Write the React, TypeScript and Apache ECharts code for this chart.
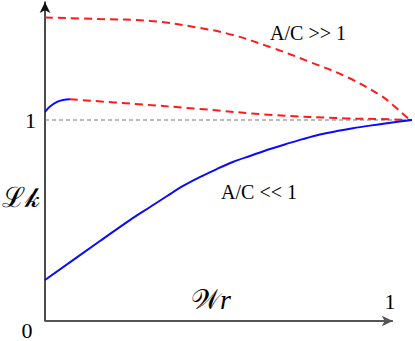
import React, { useEffect, useRef } from "react";
import * as echarts from "echarts";

// Upper red dashed curve (A/C >> 1)
const highX = [0, 0.158, 0.302, 0.445, 0.54, 0.655, 0.761, 0.868, 0.963, 1.0, 1.043, 1.055];
const highY = [1.51, 1.502, 1.493, 1.458, 1.423, 1.358, 1.289, 1.214, 1.124, 1.075, 1.01, 1.0];

// Middle curve: short blue rise, then red dashed decline
const midRiseX = [0, 0.0144, 0.0345, 0.0517, 0.0718];
const midRiseY = [1.041, 1.067, 1.09, 1.1, 1.103];
const midX = [0.0718, 0.259, 0.445, 0.655, 0.868, 0.963, 1.055];
const midY = [1.103, 1.08, 1.055, 1.025, 1.008, 1.005, 1.0];

// Lower blue curve (A/C << 1)
const lowX = [0, 0.158, 0.244, 0.302, 0.351, 0.397, 0.445, 0.494, 0.54, 0.589, 0.647, 0.704, 0.741, 0.79, 0.839, 0.885, 0.934, 0.983, 1.055];
const lowY = [0.204, 0.398, 0.502, 0.567, 0.622, 0.672, 0.716, 0.756, 0.791, 0.821, 0.856, 0.886, 0.905, 0.928, 0.945, 0.959, 0.972, 0.984, 1.0];

// Reference line at 1
const refX = [0, 1.055];
const refY = [1, 1];

// x axis arrow runs from 0 to 1
const xAxisEnd = 1;
const xMax = 1.055;

const yTickLabels = ["1"];

const zip = (xs: number[], ys: number[]) => xs.map((x, i) => [x, ys[i]]);

const SERIF = "'Liberation Serif', 'DejaVu Serif', serif";

export default function App() {
  const ref = useRef<HTMLDivElement>(null);
  useEffect(() => {
    if (!ref.current) return;
    const chart = echarts.init(ref.current, null, { renderer: "svg" });
    const red = "#ff1a1a";
    const blue = "#0a0aff";
    chart.setOption({
      animation: false,
      grid: { left: 45, right: 3, top: 2, bottom: 20 },
      xAxis: {
        type: "value",
        min: 0,
        max: xMax,
        axisLine: { show: false },
        axisTick: { show: false },
        axisLabel: { show: false },
        splitLine: { show: false },
      },
      yAxis: {
        type: "value",
        min: 0,
        max: 319 / 201,
        interval: 1,
        axisLine: {
          show: true,
          symbol: ["none", "arrow"],
          symbolSize: [8, 11],
          lineStyle: { color: "#111", width: 1.5 },
        },
        axisTick: { show: false },
        axisLabel: {
          show: true,
          margin: 9,
          fontFamily: SERIF,
          fontSize: 22,
          color: "#000",
          formatter: (v: number) => (v === 1 ? yTickLabels[0] : ""),
        },
        splitLine: { show: false },
      },
      series: [
        {
          type: "line",
          data: zip(refX, refY),
          clip: false,
          symbol: "none",
          lineStyle: { color: "#777", width: 1, type: [4, 3] },
          markLine: {
            silent: true,
            symbol: ["none", "arrow"],
            symbolSize: [8, 11],
            label: { show: false },
            lineStyle: { color: "#555", width: 2, type: "solid" },
            data: [[{ coord: [0, 0] }, { coord: [xAxisEnd, 0] }]],
          },
        },
        {
          type: "line",
          data: zip(highX, highY),
          clip: false,
          smooth: 0.4,
          symbol: "none",
          lineStyle: { color: red, width: 2, type: [8, 5] },
        },
        {
          type: "line",
          data: zip(midRiseX, midRiseY),
          clip: false,
          smooth: 0.4,
          symbol: "none",
          lineStyle: { color: blue, width: 2 },
        },
        {
          type: "line",
          data: zip(midX, midY),
          clip: false,
          smooth: 0.4,
          symbol: "none",
          lineStyle: { color: red, width: 2, type: [8, 5] },
        },
        {
          type: "line",
          data: zip(lowX, lowY),
          clip: false,
          smooth: 0.3,
          symbol: "none",
          lineStyle: { color: blue, width: 2 },
        },
      ],
      graphic: [
        { type: "text", x: 308, y: 33, style: { text: "A/C >> 1", font: `20px ${SERIF}`, fill: "#000", align: "center", verticalAlign: "middle" } },
        { type: "text", x: 259, y: 192, style: { text: "A/C << 1", font: `20px ${SERIF}`, fill: "#000", align: "center", verticalAlign: "middle" } },
        { type: "text", x: 21, y: 197, style: { text: "ℒ𝓀", font: `28px ${SERIF}`, fill: "#000", align: "center", verticalAlign: "middle" } },
        {
          type: "text",
          x: 211,
          y: 299,
          style: {
            text: "{s|𝒲}{i|r}",
            fill: "#000",
            align: "center",
            verticalAlign: "middle",
            rich: {
              s: { fontSize: 28, fontFamily: SERIF, fill: "#000" },
              i: { fontSize: 28, fontFamily: SERIF, fontStyle: "italic", fill: "#000" },
            },
          },
        },
        { type: "text", x: 27, y: 330, style: { text: "0", font: `22px ${SERIF}`, fill: "#000", align: "center", verticalAlign: "middle" } },
        { type: "text", x: 390, y: 301, style: { text: "1", font: `22px ${SERIF}`, fill: "#000", align: "center", verticalAlign: "middle" } },
      ],
    });
    return () => chart.dispose();
  }, []);
  return <div ref={ref} style={{ width: 415, height: 341, position: "absolute", left: 0, top: 0 }} />;
}
